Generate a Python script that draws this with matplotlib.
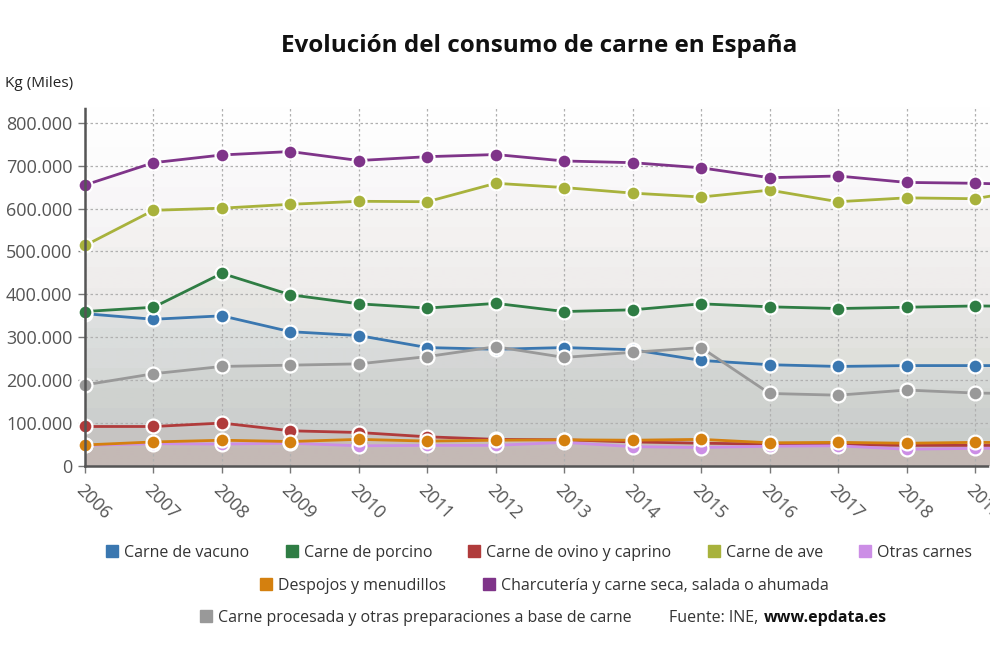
import numpy as np
import matplotlib
matplotlib.use('Agg')
import matplotlib.pyplot as plt
from matplotlib.path import Path
from matplotlib.lines import Line2D
from matplotlib.ticker import FuncFormatter, MultipleLocator
from matplotlib.colors import to_rgb

plt.rcParams['font.family'] = ['Open Sans', 'DejaVu Sans']

# datos (miles de kg)
years = list(range(2006, 2021))
vacuno = [355, 342, 350, 313, 304, 276, 272, 276, 271, 246, 236, 232, 234, 234, 234]
porcino = [360, 370, 449, 399, 378, 368, 379, 360, 364, 378, 371, 367, 370, 373, 372]
ovino = [92, 92, 100, 82, 78, 68, 62, 61, 56, 53, 51, 50, 48, 48, 47]
ave = [514, 596, 601, 610, 617, 616, 659, 649, 636, 627, 643, 616, 625, 623, 650]
otras = [48, 52, 51, 53, 47, 48, 48, 55, 45, 43, 46, 47, 39, 41, 42]
despojos = [49, 56, 60, 57, 62, 58, 60, 61, 60, 62, 54, 55, 53, 55, 54]
charcuteria = [655, 707, 725, 733, 712, 721, 726, 711, 707, 695, 672, 676, 661, 659, 655]
procesada = [189, 215, 232, 235, 238, 255, 278, 253, 265, 276, 169, 165, 177, 170, 168]

series = [
    ('Carne de vacuno', vacuno, '#3a77b0'),
    ('Carne de porcino', porcino, '#2f7d44'),
    ('Carne de ovino y caprino', ovino, '#b03b3b'),
    ('Carne de ave', ave, '#a8b23c'),
    ('Otras carnes', otras, '#cc8ee6'),
    ('Despojos y menudillos', despojos, '#d4800f'),
    ('Charcutería y carne seca, salada o ahumada', charcuteria, '#7f3489'),
    ('Carne procesada y otras preparaciones a base de carne', procesada, '#999999'),
]

fig = plt.figure(figsize=(9.9, 6.6), dpi=100)
ax = fig.add_axes([0.0859, 0.294, 1 - 0.0859, 0.544])

x0, x1 = 2006, 2006 + 905 / 68.46
ytop = 837000
ax.set_xlim(x0, x1)
ax.set_ylim(0, ytop)

grad = np.linspace(1, 0, 256).reshape(-1, 1)

# fondo neutro en degradado
bg = np.ones((256, 1, 4))
bg[..., :3] = 1 - 0.07 * grad[..., None] * np.ones(3)
ax.imshow(bg, extent=(x0, x1, 0, ytop), origin='lower', aspect='auto',
          interpolation='bilinear', zorder=0)

# relleno en degradado bajo cada serie (más opaco abajo)
for i, (name, vals, col) in enumerate(series):
    v = np.array(vals) * 1000
    rgba = np.zeros((256, 1, 4))
    rgba[..., :3] = to_rgb(col)
    rgba[..., 3] = 0.07 * grad
    im = ax.imshow(rgba, extent=(x0, x1, 0, ytop), origin='lower', aspect='auto',
                   interpolation='bilinear', zorder=1)
    verts = [(years[0], 0)] + list(zip(years, v)) + [(years[-1], 0), (years[0], 0)]
    im.set_clip_path(Path(verts, closed=True), transform=ax.transData)

for i, (name, vals, col) in enumerate(series):
    v = np.array(vals) * 1000
    ax.plot(years, v, color=col, lw=2.0, zorder=3 + i, clip_on=False,
            marker='o', markersize=10, markerfacecolor=col,
            markeredgecolor='white', markeredgewidth=1.6)

ax.set_xlim(x0, x1)
ax.set_ylim(0, ytop)
ax.yaxis.set_major_locator(MultipleLocator(100000))
ax.xaxis.set_major_locator(MultipleLocator(1))
ax.yaxis.set_major_formatter(FuncFormatter(lambda v, p: f'{v:,.0f}'.replace(',', '.')))
ax.grid(True, color='#b0b0b0', linestyle=(0, (2, 2)), linewidth=0.9, zorder=2)

for s in ['top', 'right']:
    ax.spines[s].set_visible(False)
for s in ['left', 'bottom']:
    ax.spines[s].set_color('#555555')
    ax.spines[s].set_linewidth(1.8)
    ax.spines[s].set_linestyle((0, (1, 1)))
    ax.spines[s].set_zorder(20)

ax.tick_params(axis='y', labelsize=13, labelcolor='#555555', color='#777777',
               length=5, width=1, pad=4)
ax.tick_params(axis='x', labelsize=13, labelcolor='#555555', color='#777777',
               length=5, width=1, pad=6)
ax.set_xticks(years[:-1])
ax.set_xticklabels([str(y) for y in years[:-1]], rotation=-45, ha='left',
                   va='top', rotation_mode='anchor')

fig.text(0.005, 0.868, 'Kg (Miles)', fontsize=11, color='#222222')
fig.text(0.545, 0.93, 'Evolución del consumo de carne en España',
         ha='center', va='center', fontsize=17.5, fontweight='bold', color='#111111')

# leyenda en tres filas
def handle(col):
    return Line2D([], [], marker='s', linestyle='none', markersize=9,
                  markerfacecolor=col, markeredgecolor=col)

rows = [series[0:5], series[5:7], series[7:8]]
anchors = [(0.545, 0.162), (0.55, 0.112), (0.42, 0.064)]
for r, a in zip(rows, anchors):
    leg = fig.legend([handle(c) for _, _, c in r], [n for n, _, _ in r],
                     loc='center', bbox_to_anchor=a, ncol=len(r), frameon=False,
                     fontsize=11.5, handlelength=0.7, handletextpad=0.4,
                     columnspacing=2.3, labelcolor='#333333')

fig.text(0.676, 0.064, 'Fuente: INE,', fontsize=11.5, color='#333333', va='center')
fig.text(0.772, 0.064, 'www.epdata.es', fontsize=11.5, color='#111111',
         va='center', fontweight='bold')

fig.savefig('out.png', dpi=100)
